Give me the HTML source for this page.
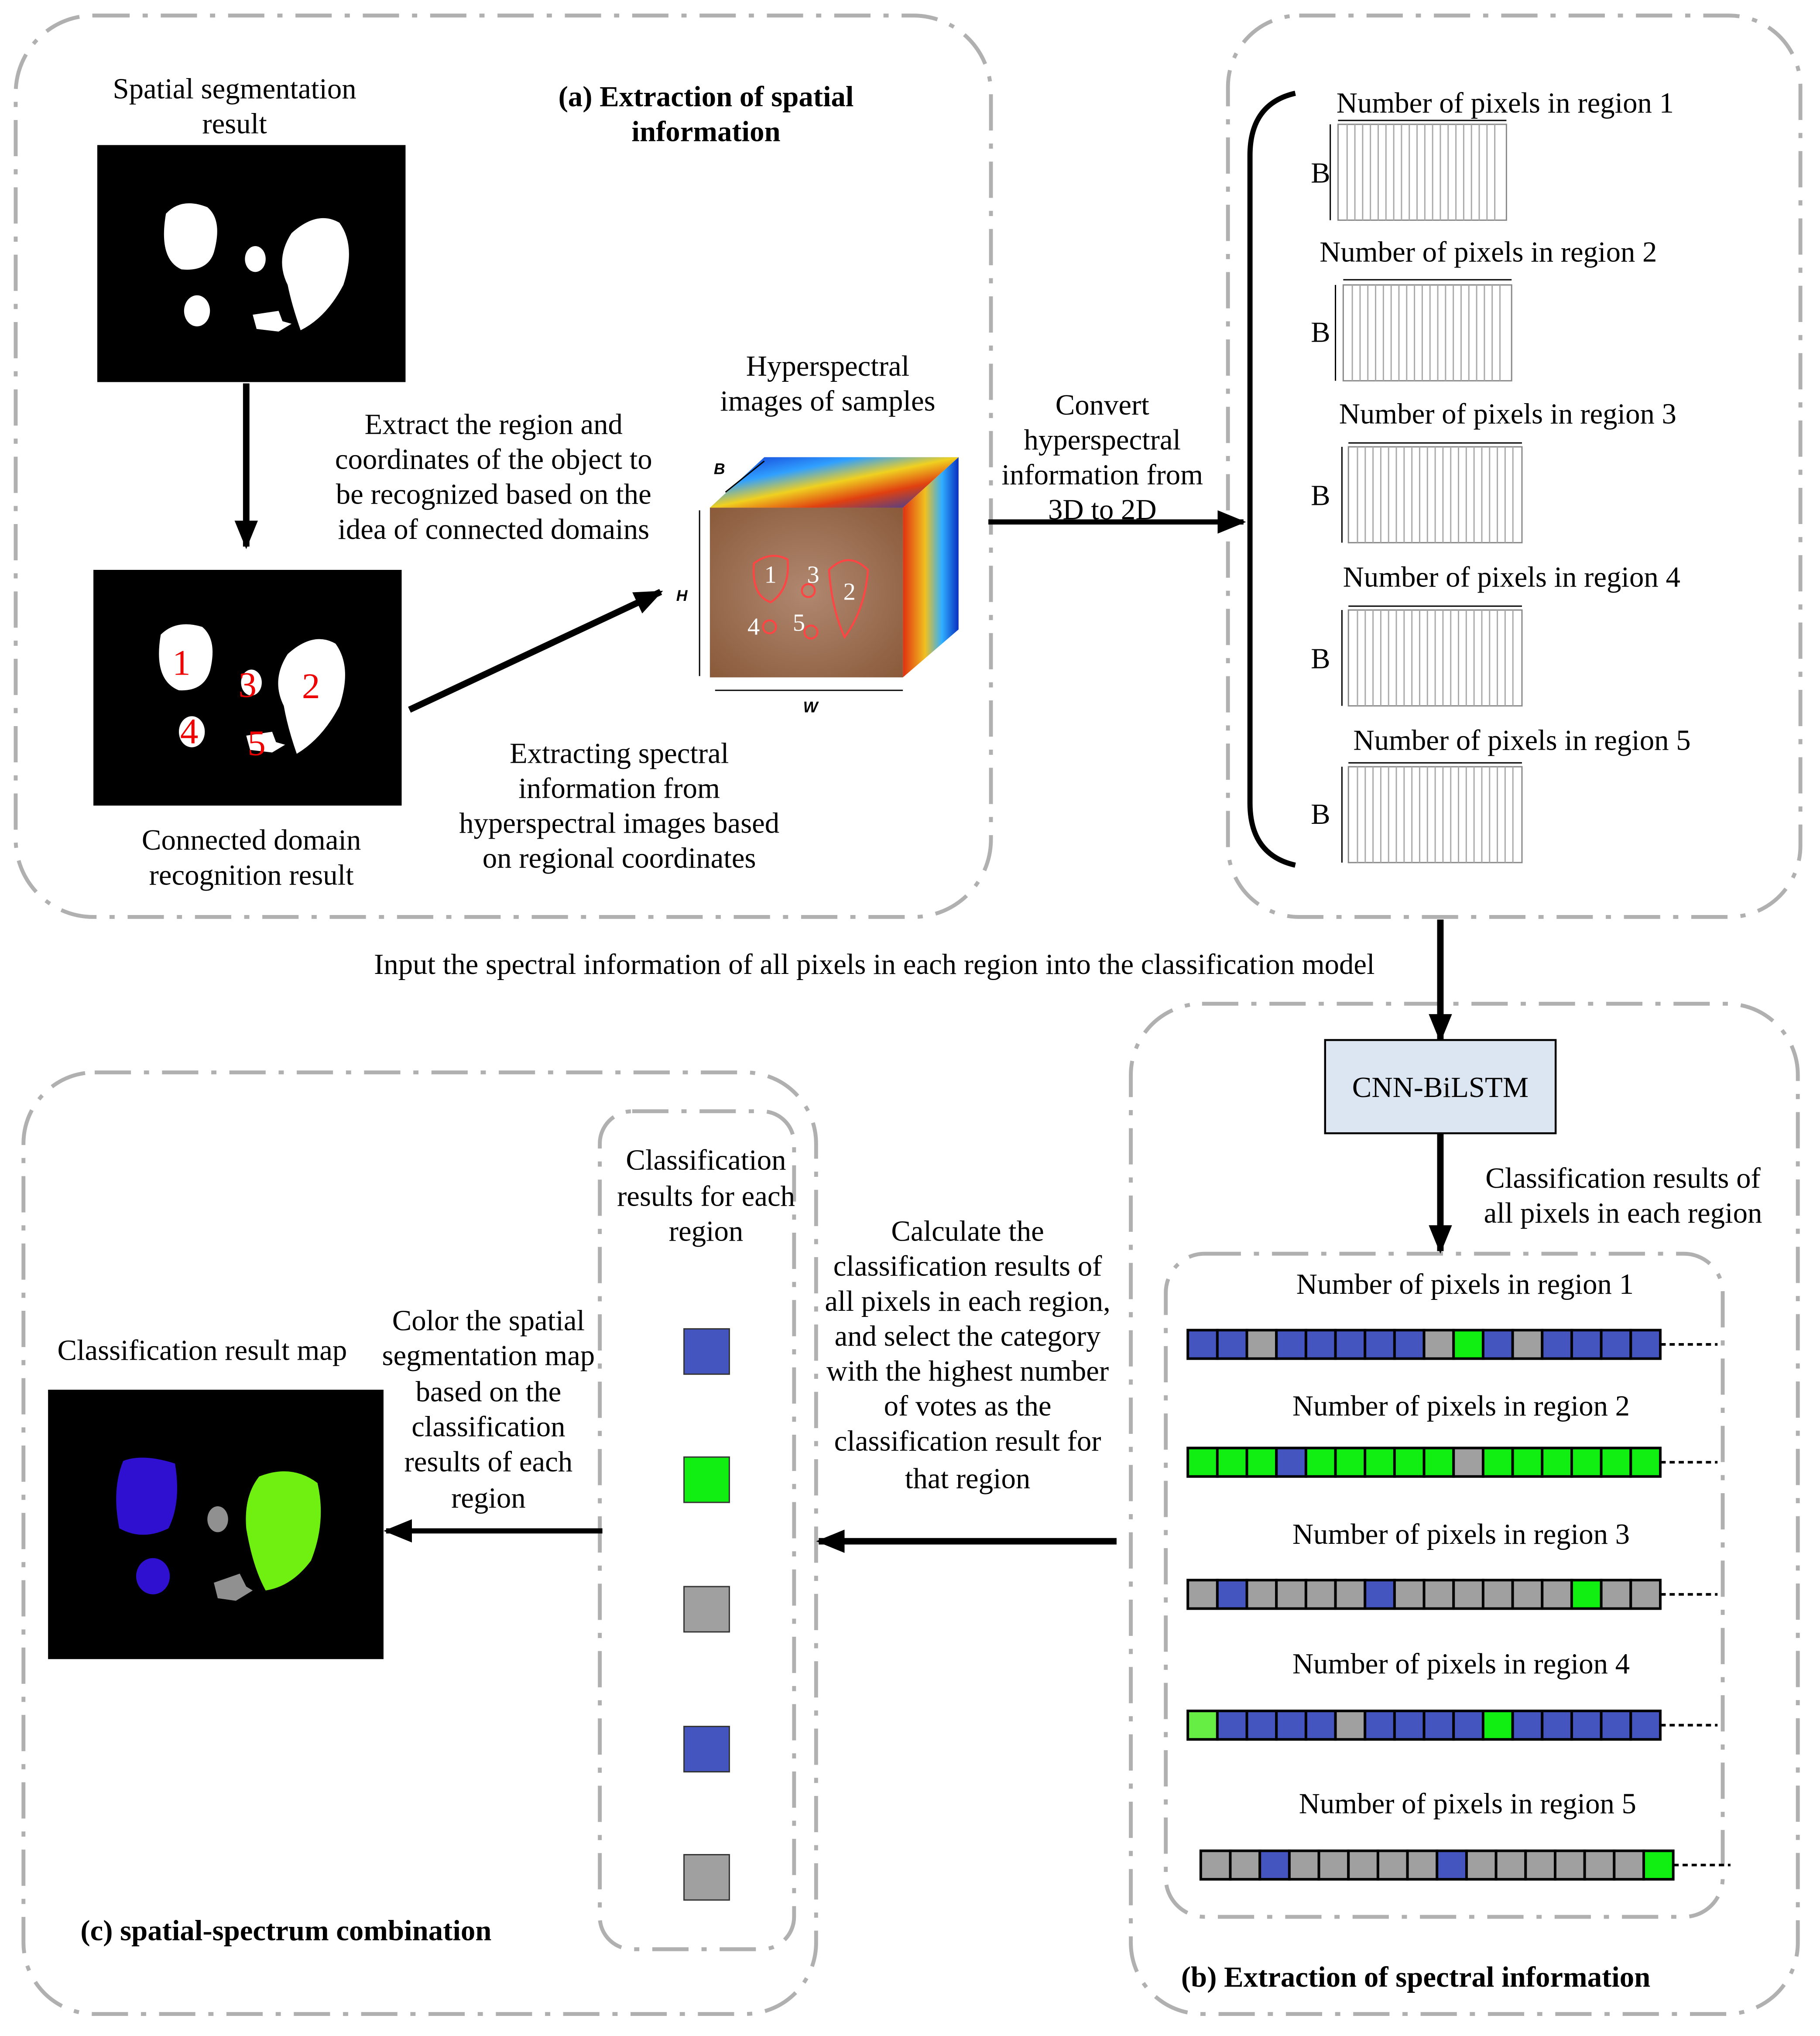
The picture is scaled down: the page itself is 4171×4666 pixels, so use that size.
<!DOCTYPE html>
<html><head><meta charset="utf-8"><style>html,body{margin:0;padding:0;background:#fff}svg{display:block}</style></head><body>
<svg xmlns="http://www.w3.org/2000/svg" width="4171" height="4666" viewBox="0 0 1405 1572" font-family="Liberation Serif, serif" font-size="22.5" fill="#000">
<defs>
<marker id="ah" markerWidth="22" markerHeight="18" refX="20" refY="9" orient="auto" markerUnits="userSpaceOnUse"><path d="M0,0 L22,9 L0,18 z" fill="#000"/></marker>
<linearGradient id="jet" x1="0" y1="0" x2="1" y2="1"><stop offset="0" stop-color="#1030d0"/><stop offset="0.3" stop-color="#30a0ff"/><stop offset="0.5" stop-color="#f0d020"/><stop offset="0.7" stop-color="#e04010"/><stop offset="1" stop-color="#1040c0"/></linearGradient>
<linearGradient id="jet2" x1="0" y1="0" x2="1" y2="0"><stop offset="0" stop-color="#e03010"/><stop offset="0.4" stop-color="#f0c020"/><stop offset="0.7" stop-color="#30b0ff"/><stop offset="1" stop-color="#0a30c0"/></linearGradient>
<radialGradient id="soil" cx="0.5" cy="0.5" r="0.7"><stop offset="0" stop-color="#b08870"/><stop offset="1" stop-color="#8a5a3a"/></radialGradient>
</defs>
<g fill="none" stroke="#b0b0b0" stroke-width="3" stroke-dasharray="28 10 4 10">
<rect x="12" y="12" width="753" height="696" rx="60"/>
<rect x="948" y="12" width="442" height="696" rx="55"/>
<rect x="873" y="775" width="515" height="780" rx="55"/>
<rect x="18" y="828" width="612" height="727" rx="55"/>
<rect x="463" y="858" width="150" height="647" rx="25"/>
<rect x="900" y="968" width="430" height="512" rx="30"/>
</g>
<text x="181" y="76" text-anchor="middle">Spatial segmentation</text>
<text x="181" y="103" text-anchor="middle">result</text>
<text x="545" y="82" text-anchor="middle" font-weight="bold">(a) Extraction of spatial</text>
<text x="545" y="109" text-anchor="middle" font-weight="bold">information</text>
<rect x="75" y="112" width="238" height="183" fill="#000"/>
<g fill="#fff">
<path d="M128,165 Q140,152 160,160 Q172,170 165,195 Q160,210 140,208 Q122,200 128,165z"/>
<ellipse cx="197" cy="200" rx="8" ry="10"/>
<path d="M225,180 Q245,162 262,172 Q275,190 265,220 Q252,245 232,255 Q225,235 222,220 Q212,200 225,180z"/>
<ellipse cx="152" cy="240" rx="10" ry="12"/>
<path d="M195,243 L215,240 L218,248 L225,250 L215,256 L198,254z"/>
</g>
<rect x="72" y="440" width="238" height="182" fill="#000"/>
<g fill="#fff">
<path d="M124,490 Q136,478 156,484 Q168,494 162,518 Q157,534 138,533 Q118,525 124,490z"/>
<ellipse cx="194" cy="527" rx="8" ry="10"/>
<path d="M222,505 Q242,487 259,497 Q272,515 262,545 Q249,570 229,582 Q222,562 219,545 Q209,525 222,505z"/>
<ellipse cx="148" cy="565" rx="10" ry="12"/>
<path d="M190,568 L210,565 L213,573 L220,575 L210,581 L193,579z"/>
</g>
<g fill="#e00" font-size="28"><text x="133" y="521">1</text><text x="233" y="539">2</text><text x="184" y="538">3</text><text x="139" y="574">4</text><text x="191" y="583">5</text></g>
<text x="194" y="656" text-anchor="middle">Connected domain</text>
<text x="194" y="683" text-anchor="middle">recognition result</text>
<line x1="190" y1="296" x2="190" y2="422" stroke="#000" stroke-width="5" marker-end="url(#ah)"/>
<text x="381" y="335" text-anchor="middle">Extract the region and</text>
<text x="381" y="362" text-anchor="middle">coordinates of the object to</text>
<text x="381" y="389" text-anchor="middle">be recognized based on the</text>
<text x="381" y="416" text-anchor="middle">idea of connected domains</text>
<line x1="316" y1="548" x2="510" y2="457" stroke="#000" stroke-width="5" marker-end="url(#ah)"/>
<text x="478" y="589" text-anchor="middle">Extracting spectral</text>
<text x="478" y="616" text-anchor="middle">information from</text>
<text x="478" y="643" text-anchor="middle">hyperspectral images based</text>
<text x="478" y="670" text-anchor="middle">on regional coordinates</text>
<text x="639" y="290" text-anchor="middle">Hyperspectral</text>
<text x="639" y="317" text-anchor="middle">images of samples</text>
<polygon points="548,392 590,353 740,353 697,392" fill="url(#jet)"/>
<polygon points="697,392 740,353 740,486 697,523" fill="url(#jet2)"/>
<rect x="548" y="392" width="149" height="131" fill="url(#soil)"/>
<g stroke="#f44" stroke-width="1.5" fill="none"><path d="M582,435 Q595,425 608,432 Q610,455 595,465 Q580,460 582,435z"/><path d="M640,440 Q655,425 670,440 Q668,470 652,492 Q642,470 640,440z"/><circle cx="624" cy="456" r="5"/><circle cx="594" cy="484" r="5"/><circle cx="626" cy="488" r="5"/></g>
<g fill="#fff" font-size="19"><text x="590" y="450">1</text><text x="651" y="463">2</text><text x="623" y="450">3</text><text x="577" y="490">4</text><text x="612" y="487">5</text></g>
<g stroke="#000" stroke-width="1" fill="none"><line x1="540" y1="394" x2="540" y2="522"/><line x1="552" y1="533" x2="697" y2="533"/><line x1="560" y1="380" x2="590" y2="356"/></g>
<g font-size="12" font-family="Liberation Sans, sans-serif" font-weight="bold" font-style="italic"><text x="522" y="464">H</text><text x="620" y="550">W</text><text x="551" y="366">B</text></g>
<line x1="763" y1="403" x2="960" y2="403" stroke="#000" stroke-width="4" marker-end="url(#ah)"/>
<text x="851" y="320" text-anchor="middle">Convert</text>
<text x="851" y="347" text-anchor="middle">hyperspectral</text>
<text x="851" y="374" text-anchor="middle">information from</text>
<text x="851" y="401" text-anchor="middle">3D to 2D</text>
<path d="M1000,72 Q965,80 965,120 L965,620 Q965,660 1000,668" fill="none" stroke="#000" stroke-width="4"/>
<g stroke="#888" stroke-width="1" fill="none">
<rect x="1033" y="96" width="130" height="74"/><rect x="1037" y="220" width="130" height="74"/><rect x="1041" y="345" width="134" height="74"/><rect x="1041" y="471" width="134" height="74"/><rect x="1041" y="592" width="134" height="74"/>
</g>
<g stroke="#aaa" stroke-width="1">
<path d="M1040,96v74M1046,96v74M1052,96v74M1058,96v74M1064,96v74M1070,96v74M1076,96v74M1082,96v74M1088,96v74M1094,96v74M1100,96v74M1106,96v74M1112,96v74M1118,96v74M1124,96v74M1130,96v74M1136,96v74M1142,96v74M1148,96v74M1154,96v74"/>
<path d="M1044,220v74M1050,220v74M1056,220v74M1062,220v74M1068,220v74M1074,220v74M1080,220v74M1086,220v74M1092,220v74M1098,220v74M1104,220v74M1110,220v74M1116,220v74M1122,220v74M1128,220v74M1134,220v74M1140,220v74M1146,220v74M1152,220v74M1158,220v74"/>
<path d="M1048,345v74M1054,345v74M1060,345v74M1066,345v74M1072,345v74M1078,345v74M1084,345v74M1090,345v74M1096,345v74M1102,345v74M1108,345v74M1114,345v74M1120,345v74M1126,345v74M1132,345v74M1138,345v74M1144,345v74M1150,345v74M1156,345v74M1162,345v74M1168,345v74"/>
<path d="M1048,471v74M1054,471v74M1060,471v74M1066,471v74M1072,471v74M1078,471v74M1084,471v74M1090,471v74M1096,471v74M1102,471v74M1108,471v74M1114,471v74M1120,471v74M1126,471v74M1132,471v74M1138,471v74M1144,471v74M1150,471v74M1156,471v74M1162,471v74M1168,471v74"/>
<path d="M1048,592v74M1054,592v74M1060,592v74M1066,592v74M1072,592v74M1078,592v74M1084,592v74M1090,592v74M1096,592v74M1102,592v74M1108,592v74M1114,592v74M1120,592v74M1126,592v74M1132,592v74M1138,592v74M1144,592v74M1150,592v74M1156,592v74M1162,592v74M1168,592v74"/>
</g>
<g stroke="#000" stroke-width="1">
<line x1="1033" y1="93" x2="1163" y2="93"/><line x1="1027" y1="96" x2="1027" y2="170"/>
<line x1="1037" y1="216" x2="1167" y2="216"/><line x1="1031" y1="220" x2="1031" y2="294"/>
<line x1="1041" y1="342" x2="1175" y2="342"/><line x1="1036" y1="345" x2="1036" y2="419"/>
<line x1="1041" y1="468" x2="1175" y2="468"/><line x1="1036" y1="471" x2="1036" y2="545"/>
<line x1="1041" y1="589" x2="1175" y2="589"/><line x1="1036" y1="592" x2="1036" y2="666"/>
</g>
<text x="1162" y="87" text-anchor="middle">Number of pixels in region 1</text>
<text x="1149" y="202" text-anchor="middle">Number of pixels in region 2</text>
<text x="1164" y="327" text-anchor="middle">Number of pixels in region 3</text>
<text x="1167" y="453" text-anchor="middle">Number of pixels in region 4</text>
<text x="1175" y="579" text-anchor="middle">Number of pixels in region 5</text>
<g><text x="1012" y="141">B</text><text x="1012" y="264">B</text><text x="1012" y="390">B</text><text x="1012" y="516">B</text><text x="1012" y="636">B</text></g>
<text x="675" y="752" text-anchor="middle">Input the spectral information of all pixels in each region into the classification model</text>
<line x1="1112" y1="710" x2="1112" y2="803" stroke="#000" stroke-width="5" marker-end="url(#ah)"/>
<rect x="1023" y="803" width="178" height="72" fill="#dce6f2" stroke="#000" stroke-width="1.5"/>
<text x="1112" y="847" text-anchor="middle">CNN-BiLSTM</text>
<line x1="1112" y1="875" x2="1112" y2="966" stroke="#000" stroke-width="5" marker-end="url(#ah)"/>
<text x="1253" y="917" text-anchor="middle">Classification results of</text>
<text x="1253" y="944" text-anchor="middle">all pixels in each region</text>
<text x="1131" y="999" text-anchor="middle">Number of pixels in region 1</text>
<text x="1128" y="1093" text-anchor="middle">Number of pixels in region 2</text>
<text x="1128" y="1192" text-anchor="middle">Number of pixels in region 3</text>
<text x="1128" y="1292" text-anchor="middle">Number of pixels in region 4</text>
<text x="1133" y="1400" text-anchor="middle">Number of pixels in region 5</text>
<g stroke="#000" stroke-width="2">
<g transform="translate(917,1027)">
<rect x="0" y="0" width="22.8" height="22" fill="#4455c0"/><rect x="22.8" y="0" width="22.8" height="22" fill="#4455c0"/><rect x="45.6" y="0" width="22.8" height="22" fill="#a0a0a0"/><rect x="68.4" y="0" width="22.8" height="22" fill="#4455c0"/><rect x="91.2" y="0" width="22.8" height="22" fill="#4455c0"/><rect x="114" y="0" width="22.8" height="22" fill="#4455c0"/><rect x="136.8" y="0" width="22.8" height="22" fill="#4455c0"/><rect x="159.6" y="0" width="22.8" height="22" fill="#4455c0"/><rect x="182.4" y="0" width="22.8" height="22" fill="#a0a0a0"/><rect x="205.2" y="0" width="22.8" height="22" fill="#11ee11"/><rect x="228" y="0" width="22.8" height="22" fill="#4455c0"/><rect x="250.8" y="0" width="22.8" height="22" fill="#a0a0a0"/><rect x="273.6" y="0" width="22.8" height="22" fill="#4455c0"/><rect x="296.4" y="0" width="22.8" height="22" fill="#4455c0"/><rect x="319.2" y="0" width="22.8" height="22" fill="#4455c0"/><rect x="342" y="0" width="22.8" height="22" fill="#4455c0"/>
</g>
<g transform="translate(917,1118)">
<rect x="0" y="0" width="22.8" height="22" fill="#11ee11"/><rect x="22.8" y="0" width="22.8" height="22" fill="#11ee11"/><rect x="45.6" y="0" width="22.8" height="22" fill="#11ee11"/><rect x="68.4" y="0" width="22.8" height="22" fill="#4455c0"/><rect x="91.2" y="0" width="22.8" height="22" fill="#11ee11"/><rect x="114" y="0" width="22.8" height="22" fill="#11ee11"/><rect x="136.8" y="0" width="22.8" height="22" fill="#11ee11"/><rect x="159.6" y="0" width="22.8" height="22" fill="#11ee11"/><rect x="182.4" y="0" width="22.8" height="22" fill="#11ee11"/><rect x="205.2" y="0" width="22.8" height="22" fill="#a0a0a0"/><rect x="228" y="0" width="22.8" height="22" fill="#11ee11"/><rect x="250.8" y="0" width="22.8" height="22" fill="#11ee11"/><rect x="273.6" y="0" width="22.8" height="22" fill="#11ee11"/><rect x="296.4" y="0" width="22.8" height="22" fill="#11ee11"/><rect x="319.2" y="0" width="22.8" height="22" fill="#11ee11"/><rect x="342" y="0" width="22.8" height="22" fill="#11ee11"/>
</g>
<g transform="translate(917,1220)">
<rect x="0" y="0" width="22.8" height="22" fill="#a0a0a0"/><rect x="22.8" y="0" width="22.8" height="22" fill="#4455c0"/><rect x="45.6" y="0" width="22.8" height="22" fill="#a0a0a0"/><rect x="68.4" y="0" width="22.8" height="22" fill="#a0a0a0"/><rect x="91.2" y="0" width="22.8" height="22" fill="#a0a0a0"/><rect x="114" y="0" width="22.8" height="22" fill="#a0a0a0"/><rect x="136.8" y="0" width="22.8" height="22" fill="#4455c0"/><rect x="159.6" y="0" width="22.8" height="22" fill="#a0a0a0"/><rect x="182.4" y="0" width="22.8" height="22" fill="#a0a0a0"/><rect x="205.2" y="0" width="22.8" height="22" fill="#a0a0a0"/><rect x="228" y="0" width="22.8" height="22" fill="#a0a0a0"/><rect x="250.8" y="0" width="22.8" height="22" fill="#a0a0a0"/><rect x="273.6" y="0" width="22.8" height="22" fill="#a0a0a0"/><rect x="296.4" y="0" width="22.8" height="22" fill="#11ee11"/><rect x="319.2" y="0" width="22.8" height="22" fill="#a0a0a0"/><rect x="342" y="0" width="22.8" height="22" fill="#a0a0a0"/>
</g>
<g transform="translate(917,1321)">
<rect x="0" y="0" width="22.8" height="22" fill="#66ee44"/><rect x="22.8" y="0" width="22.8" height="22" fill="#4455c0"/><rect x="45.6" y="0" width="22.8" height="22" fill="#4455c0"/><rect x="68.4" y="0" width="22.8" height="22" fill="#4455c0"/><rect x="91.2" y="0" width="22.8" height="22" fill="#4455c0"/><rect x="114" y="0" width="22.8" height="22" fill="#a0a0a0"/><rect x="136.8" y="0" width="22.8" height="22" fill="#4455c0"/><rect x="159.6" y="0" width="22.8" height="22" fill="#4455c0"/><rect x="182.4" y="0" width="22.8" height="22" fill="#4455c0"/><rect x="205.2" y="0" width="22.8" height="22" fill="#4455c0"/><rect x="228" y="0" width="22.8" height="22" fill="#11ee11"/><rect x="250.8" y="0" width="22.8" height="22" fill="#4455c0"/><rect x="273.6" y="0" width="22.8" height="22" fill="#4455c0"/><rect x="296.4" y="0" width="22.8" height="22" fill="#4455c0"/><rect x="319.2" y="0" width="22.8" height="22" fill="#4455c0"/><rect x="342" y="0" width="22.8" height="22" fill="#4455c0"/>
</g>
<g transform="translate(927,1429)">
<rect x="0" y="0" width="22.8" height="22" fill="#a0a0a0"/><rect x="22.8" y="0" width="22.8" height="22" fill="#a0a0a0"/><rect x="45.6" y="0" width="22.8" height="22" fill="#4455c0"/><rect x="68.4" y="0" width="22.8" height="22" fill="#a0a0a0"/><rect x="91.2" y="0" width="22.8" height="22" fill="#a0a0a0"/><rect x="114" y="0" width="22.8" height="22" fill="#a0a0a0"/><rect x="136.8" y="0" width="22.8" height="22" fill="#a0a0a0"/><rect x="159.6" y="0" width="22.8" height="22" fill="#a0a0a0"/><rect x="182.4" y="0" width="22.8" height="22" fill="#4455c0"/><rect x="205.2" y="0" width="22.8" height="22" fill="#a0a0a0"/><rect x="228" y="0" width="22.8" height="22" fill="#a0a0a0"/><rect x="250.8" y="0" width="22.8" height="22" fill="#a0a0a0"/><rect x="273.6" y="0" width="22.8" height="22" fill="#a0a0a0"/><rect x="296.4" y="0" width="22.8" height="22" fill="#a0a0a0"/><rect x="319.2" y="0" width="22.8" height="22" fill="#a0a0a0"/><rect x="342" y="0" width="22.8" height="22" fill="#11ee11"/>
</g>
</g>
<g stroke="#000" stroke-width="2" stroke-dasharray="4 3">
<line x1="1282" y1="1038" x2="1326" y2="1038"/><line x1="1282" y1="1129" x2="1326" y2="1129"/><line x1="1282" y1="1231" x2="1326" y2="1231"/><line x1="1282" y1="1332" x2="1326" y2="1332"/><line x1="1292" y1="1440" x2="1336" y2="1440"/>
</g>
<text x="1093" y="1534" text-anchor="middle" font-weight="bold">(b) Extraction of spectral information</text>
<line x1="862" y1="1190" x2="632" y2="1190" stroke="#000" stroke-width="5" marker-end="url(#ah)"/>
<text x="747" y="958" text-anchor="middle">Calculate the</text>
<text x="747" y="985" text-anchor="middle">classification results of</text>
<text x="747" y="1012" text-anchor="middle">all pixels in each region,</text>
<text x="747" y="1039" text-anchor="middle">and select the category</text>
<text x="747" y="1066" text-anchor="middle">with the highest number</text>
<text x="747" y="1093" text-anchor="middle">of votes as the</text>
<text x="747" y="1120" text-anchor="middle">classification result for</text>
<text x="747" y="1149" text-anchor="middle">that region</text>
<text x="545" y="903" text-anchor="middle">Classification</text>
<text x="545" y="931" text-anchor="middle">results for each</text>
<text x="545" y="958" text-anchor="middle">region</text>
<g stroke="#333" stroke-width="1"><rect x="528" y="1026" width="35" height="35" fill="#4455c0"/><rect x="528" y="1125" width="35" height="35" fill="#11ee11"/><rect x="528" y="1225" width="35" height="35" fill="#a0a0a0"/><rect x="528" y="1333" width="35" height="35" fill="#4455c0"/><rect x="528" y="1432" width="35" height="35" fill="#a0a0a0"/></g>
<line x1="465" y1="1182" x2="298" y2="1182" stroke="#000" stroke-width="4" marker-end="url(#ah)"/>
<text x="377" y="1027" text-anchor="middle">Color the spatial</text>
<text x="377" y="1054" text-anchor="middle">segmentation map</text>
<text x="377" y="1082" text-anchor="middle">based on the</text>
<text x="377" y="1109" text-anchor="middle">classification</text>
<text x="377" y="1136" text-anchor="middle">results of each</text>
<text x="377" y="1164" text-anchor="middle">region</text>
<text x="156" y="1050" text-anchor="middle">Classification result map</text>
<rect x="37" y="1073" width="259" height="208" fill="#000"/>
<path d="M95,1128 Q110,1122 135,1130 Q140,1160 130,1180 Q110,1190 92,1180 Q86,1150 95,1128z" fill="#3010d0"/>
<ellipse cx="118" cy="1217" rx="13" ry="14" fill="#3010d0"/>
<ellipse cx="168" cy="1173" rx="8" ry="10" fill="#909090"/>
<path d="M165,1222 L185,1215 L190,1225 L195,1228 L182,1236 L168,1234z" fill="#909090"/>
<path d="M200,1140 Q225,1130 245,1145 Q252,1175 240,1205 Q225,1225 205,1228 Q195,1210 190,1180 Q188,1155 200,1140z" fill="#70f010"/>
<text x="62" y="1498" font-weight="bold">(c) spatial-spectrum combination</text>
</svg>
</body></html>
